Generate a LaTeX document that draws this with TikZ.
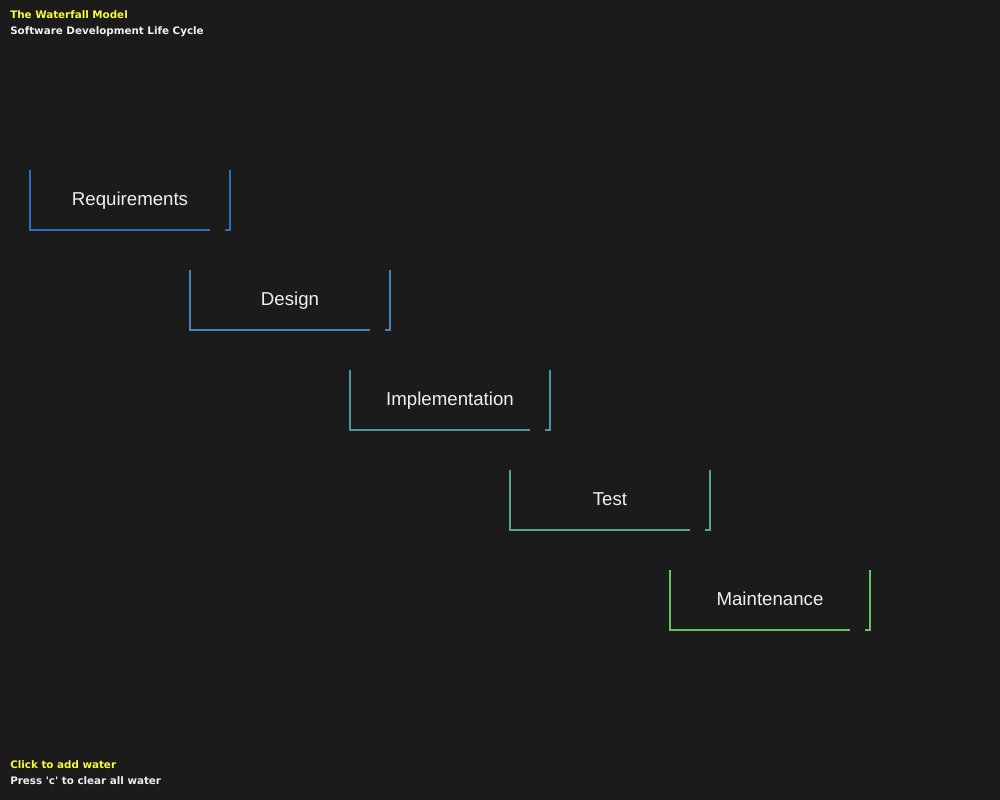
\documentclass[tikz,border=0pt]{standalone}
\usepackage{fontspec}
\setmainfont{Liberation Sans}
\newfontfamily\hudfont{DejaVu Sans}
\usetikzlibrary{calc}
\definecolor{bgc}{RGB}{27,27,27}
\definecolor{hudyellow}{RGB}{250,250,60}
\definecolor{hudwhite}{RGB}{240,240,240}
\definecolor{creq}{RGB}{46,110,190}
\definecolor{cdes}{RGB}{72,130,185}
\definecolor{cimp}{RGB}{72,152,158}
\definecolor{ctest}{RGB}{92,168,128}
\definecolor{cmain}{RGB}{108,190,100}
\tikzset{
  stagebox/.style={inner sep=0pt, outer sep=0pt, minimum width=150pt, minimum height=45pt,
    text height=10.4pt, text depth=2pt,
    text=hudwhite, font=\fontsize{14}{16}\selectfont},
  hudtitle/.style={anchor=base west, inner sep=0pt, text=hudyellow, font=\hudfont\bfseries\fontsize{7.75}{8}\selectfont},
  hudtext/.style={anchor=base west, inner sep=0pt, text=hudwhite, font=\hudfont\bfseries\fontsize{7.75}{8}\selectfont},
  edge/.style={line width=1.5pt, line cap=butt}
}
\newcommand{\stageframe}[2]{%
  \draw[edge,#2] (#1.north west) -- (#1.south west) -- ($(#1.south east)+(-20,0)$);
  \draw[edge,#2] ($(#1.south east)+(-5,0)$) -- (#1.south east) -- (#1.north east);
}
\begin{document}
\begin{tikzpicture}[x=0.75pt,y=-0.75pt]
\fill[bgc] (0,0) rectangle (1000,800);
\useasboundingbox (0,0) rectangle (1000,800);
\node[hudtitle] (title) at (10,18) {The Waterfall Model};
\node[hudtext] (subtitle) at (10,34) {Software Development Life Cycle};
\node[stagebox] (req) at (130,200) {Requirements};
\node[stagebox] (des) at (290,300) {Design};
\node[stagebox] (imp) at (450,400) {Implementation};
\node[stagebox] (tst) at (610,500) {Test};
\node[stagebox] (mnt) at (770,600) {Maintenance};
\stageframe{req}{creq}
\stageframe{des}{cdes}
\stageframe{imp}{cimp}
\stageframe{tst}{ctest}
\stageframe{mnt}{cmain}
\node[hudtitle] (hint1) at (10,768) {Click to add water};
\node[hudtext] (hint2) at (10,784) {Press 'c' to clear all water};
\end{tikzpicture}
\end{document}
